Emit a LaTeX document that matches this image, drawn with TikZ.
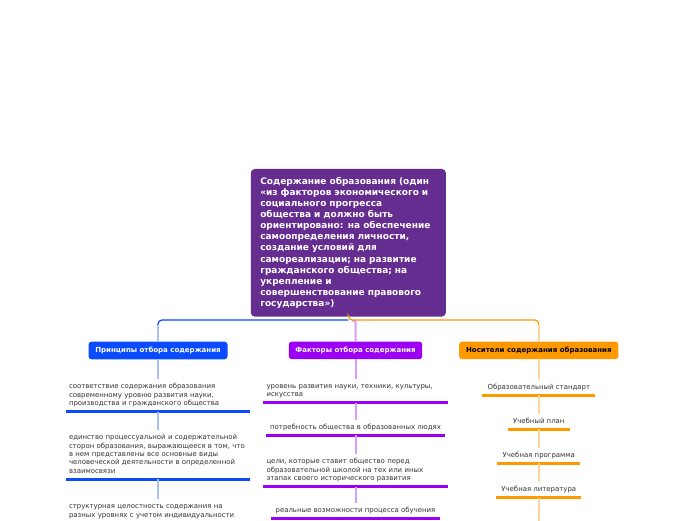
\documentclass[tikz,border=0pt]{standalone}
\usepackage{fontspec}
\setmainfont{DejaVu Sans}
\definecolor{rootc}{HTML}{662D91}
\definecolor{bc}{HTML}{0A4BFF}
\definecolor{bcl}{HTML}{A8BFFF}
\definecolor{pc}{HTML}{9B00F5}
\definecolor{pcl}{HTML}{D89CFF}
\definecolor{oc}{HTML}{FF9900}
\definecolor{ocl}{HTML}{FFD699}
\definecolor{txt}{HTML}{333333}
\tikzset{
  rootbox/.style={fill=rootc, rounded corners=4pt, text=white,
    font=\fontsize{9}{11.09}\selectfont\bfseries, align=left,
    text width=176pt, inner xsep=9.5pt, inner ysep=0pt, minimum height=147.7pt},
  headbox/.style={rounded corners=3pt, font=\fontsize{7}{8.5}\selectfont\bfseries,
    minimum height=17.6pt, inner xsep=4pt, inner ysep=0pt},
  itembox/.style={font=\fontsize{6.95}{8.3}\selectfont, text=txt, align=left,
    inner xsep=4pt, inner ysep=3.5pt, anchor=south,
    execute at begin node=\strut, execute at end node=\strut},
  wideitem/.style={itembox, text width=178pt, inner xsep=3pt},
  centitem/.style={itembox, align=center, inner xsep=5pt},
  uline/.style={line width=3pt},
  link/.style={line width=2pt},
  trunk/.style={line width=1.2pt, rounded corners=4pt},
}
\begin{document}
\begin{tikzpicture}[x=1pt,y=-1pt]
\useasboundingbox (0,0) rectangle (696,520);
\fill[white] (0,0) rectangle (696,520);

% root
\node[rootbox] (root) at (348.3,242.8) {Содержание образования (один\\«из факторов экономического и\\социального прогресса\\общества и должно быть\\ориентировано: на обеспечение\\самоопределения личности,\\создание условий для\\самореализации; на развитие\\гражданского общества; на\\укрепление и\\совершенствование правового\\государства»)};

% headers
\node[headbox, fill=bc, text=white, minimum width=139pt] (hb) at (158,350.5) {Принципы отбора содержания};
\node[headbox, fill=pc, text=white, minimum width=133.4pt] (hp) at (355.5,350.4) {Факторы отбора содержания};
\node[headbox, fill=oc, text=black, minimum width=159.3pt] (ho) at (538.8,350.4) {Носители содержания образования};

% trunk connectors
\coordinate (j) at (348.3,320);
\draw[link, pcl, rounded corners=2pt] (351.5,320.5) -- (355.5,320.5) -- (hp.north);
\draw[trunk, bc] (j) -- (158,320) -- (158,327);
\draw[link, bcl] (158,325) -- (hb.north);
\draw[trunk, oc] (root.south) -- (j) -- (538.8,320) -- (538.8,327);
\draw[link, ocl] (538.8,325) -- (ho.north);

% blue items
\node[wideitem] (b1) at (158,411.7) {соответствие содержания образования\\современному уровню развития науки,\\производства и гражданского общества};
\node[wideitem] (b2) at (158,479.3) {единство процессуальной и содержательной\\сторон образования, выражающееся в том, что\\в нем представлены все основные виды\\человеческой деятельности в определенной\\взаимосвязи};
\node[wideitem, anchor=north] (b3) at (158,499.3) {структурная целостность содержания на\\разных уровнях с учетом индивидуальности};
\foreach \n in {b1,b2} \draw[uline, bc] (\n.south west) -- (\n.south east);
\draw[link, bcl] (hb.south) -- (b1.north);
\draw[link, bcl] (b1.south) -- (b2.north);
\draw[link, bcl] (b2.south) -- (b3.north);

% purple items
\node[wideitem] (p1) at (355.5,402.7) {уровень развития науки, техники, культуры,\\искусства};
\node[itembox] (p2) at (355.5,435.3) {потребность общества в образованных людях};
\node[wideitem] (p3) at (355.5,486.7) {цели, которые ставит общество перед\\образовательной школой на тех или иных\\этапах своего исторического развития};
\node[itembox] (p4) at (355.5,518.3) {реальные возможности процесса обучения};
\foreach \n in {p1,p2,p3,p4} \draw[uline, pc] (\n.south west) -- (\n.south east);
\draw[link, pcl] (hp.south) -- (p1.north);
\draw[link, pcl] (p1.south) -- (p2.north);
\draw[link, pcl] (p2.south) -- (p3.north);
\draw[link, pcl] (p3.south) -- (p4.north);

% orange items
\node[centitem] (o1) at (538.8,395.3) {Образовательный стандарт};
\node[centitem] (o2) at (538.8,429.3) {Учебный план};
\node[centitem] (o3) at (538.8,463.3) {Учебная программа};
\node[centitem] (o4) at (538.8,497.7) {Учебная литература};
\coordinate (oend) at (538.8,522);
\foreach \n in {o1,o2,o3,o4} \draw[uline, oc] (\n.south west) -- (\n.south east);
\draw[link, ocl] (ho.south) -- (o1.north);
\draw[link, ocl] (o1.south) -- (o2.north);
\draw[link, ocl] (o2.south) -- (o3.north);
\draw[link, ocl] (o3.south) -- (o4.north);
\draw[link, ocl] (o4.south) -- (oend);
\end{tikzpicture}
\end{document}
